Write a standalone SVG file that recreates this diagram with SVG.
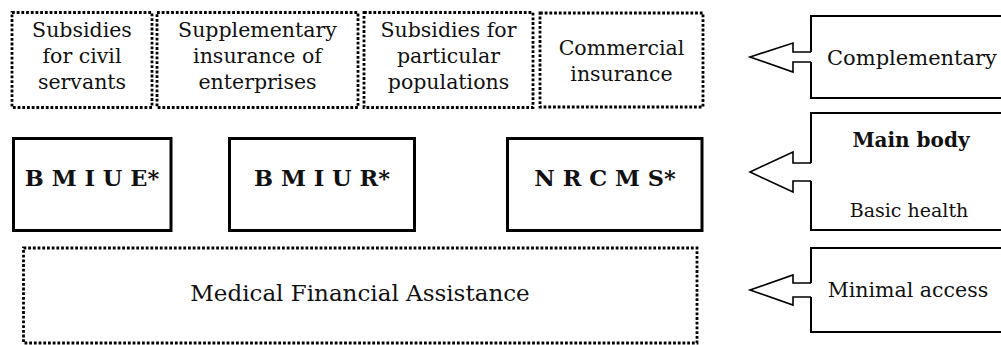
<svg xmlns="http://www.w3.org/2000/svg" width="1001" height="345" viewBox="0 0 1001 345">
<style>
text{font-family:"DejaVu Serif","Liberation Serif",serif;fill:#111;text-anchor:middle}
.t{font-size:20.5px}
.b{font-weight:bold}
.dot{fill:none;stroke:#000;stroke-width:2.8;stroke-dasharray:2.8 1.9}
.solid{fill:none;stroke:#000;stroke-width:3}
.side{fill:none;stroke:#000;stroke-width:2}
.arr{fill:#fff;stroke:#000;stroke-width:1.6;stroke-linejoin:miter}
</style>
<rect width="1001" height="345" fill="#fff"/>
<g id="subsidies-civil"><rect class="dot" x="12" y="12.5" width="140" height="95"/>
<text class="t" x="82" y="37">Subsidies</text><text class="t" x="82" y="63">for civil</text><text class="t" x="82" y="89">servants</text></g>
<g id="supplementary"><rect class="dot" x="157" y="12.5" width="201" height="95"/>
<text class="t" x="257.5" y="37">Supplementary</text><text class="t" x="257.5" y="63">insurance of</text><text class="t" x="257.5" y="89">enterprises</text></g>
<g id="subsidies-particular"><rect class="dot" x="364" y="12.5" width="169" height="95"/>
<text class="t" x="448.5" y="37">Subsidies for</text><text class="t" x="448.5" y="63">particular</text><text class="t" x="448.5" y="89">populations</text></g>
<g id="commercial"><rect class="dot" x="540" y="13" width="163" height="94"/>
<text class="t" x="621.5" y="55">Commercial</text><text class="t" x="621.5" y="81">insurance</text></g>
<g id="bmiue"><rect class="solid" x="13.5" y="138.5" width="157.5" height="92"/>
<text class="b" style="font-size:22.5px" x="92" y="186">B M I U E*</text></g>
<g id="bmiur"><rect class="solid" x="229.5" y="138.5" width="185" height="92"/>
<text class="b" style="font-size:22.5px" x="322" y="186">B M I U R*</text></g>
<g id="nrcms"><rect class="solid" x="507.5" y="138.5" width="194.5" height="92"/>
<text class="b" style="font-size:22.5px" x="605" y="186">N R C M S*</text></g>
<g id="mfa"><rect class="dot" x="23.5" y="248" width="673.5" height="95"/>
<text style="font-size:23px" x="360" y="301">Medical Financial Assistance</text></g>
<g id="complementary"><path class="side" d="M811 52V16H1010M811 62V98H1010"/>
<text style="font-size:21px" x="912" y="65">Complementary</text></g>
<g id="main-body"><path class="side" d="M811 163V113H1010M811 181V230H1010"/>
<text class="b" style="font-size:20px" x="911" y="147">Main body</text>
<text style="font-size:19px" x="909" y="217">Basic health</text></g>
<g id="minimal-access"><path class="side" d="M811 283V248H1010M811 297V332H1010"/>
<text style="font-size:20.5px" x="908" y="297">Minimal access</text></g>
<g id="connectors">
<polyline class="arr" points="811,52 793,52 793,43 750,57 793,72 793,62 811,62"/>
<polyline class="arr" points="811,163 793,163 793,152 750,172 793,192 793,181 811,181"/>
<polyline class="arr" points="811,283 793,283 793,275 750,290 793,305 793,297 811,297"/>
</g>
</svg>
